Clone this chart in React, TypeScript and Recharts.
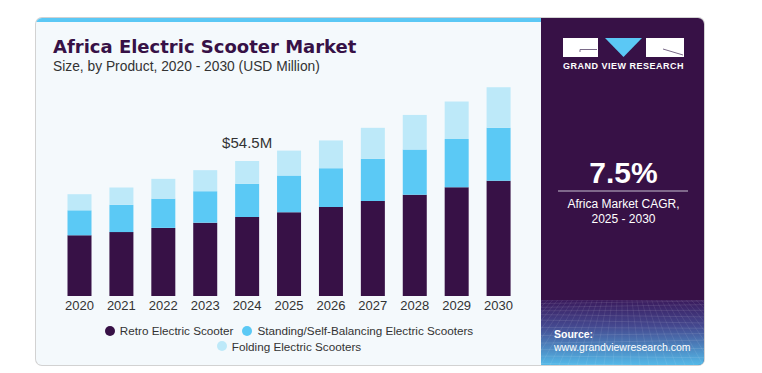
import React from 'react';
import { BarChart, Bar, XAxis, YAxis, LabelList } from 'recharts';

const years = ['2020', '2021', '2022', '2023', '2024', '2025', '2026', '2027', '2028', '2029', '2030'];
const retro = [24.5, 25.8, 27.5, 29.6, 31.9, 33.8, 35.9, 38.4, 40.9, 43.9, 46.5];
const standing = [10.1, 11.0, 11.8, 12.7, 13.4, 14.8, 15.7, 17.0, 18.2, 19.5, 21.4];
const folding = [6.5, 7.0, 8.0, 8.5, 9.2, 10.1, 11.2, 12.5, 14.0, 15.1, 16.4];
const seriesNames = ['Retro Electric Scooter', 'Standing/Self-Balancing Electric Scooters', 'Folding Electric Scooters'];
const seriesColors = ['#371146', '#5bc9f5', '#bde9f9'];
const highlightIndex = 4;

const data = years.map((y, i) => ({ year: y, retro: retro[i], standing: standing[i], folding: folding[i] }));

const FONT = '"Liberation Sans", Arial, sans-serif';

const HighlightLabel = (props: any) => {
  const { x, y, width, index } = props;
  if (index !== highlightIndex) return null;
  const total = retro[index] + standing[index] + folding[index];
  return (
    <text x={x + width / 2} y={y - 12.7} textAnchor="middle" fontSize={15} fill="#333" fontFamily={FONT}>
      {`$${total.toFixed(1)}M`}
    </text>
  );
};

const Grid = () => {
  const lines: React.ReactNode[] = [];
  const top = 300;
  const bottom = 365;
  for (let k = 0; k < 12; k++) {
    const t = k / 11;
    const y = top + (bottom - top) * Math.pow(t, 1.4);
    lines.push(<line key={'h' + k} x1={541} x2={704} y1={y + Math.sin(k) * 1.5} y2={y - Math.sin(k) * 1.5} stroke="#ffffff" strokeOpacity={0.14} strokeWidth={0.7} />);
  }
  for (let k = -10; k <= 26; k++) {
    const xb = 541 + k * 9;
    const xt = 622 + (xb - 622) * 0.55;
    lines.push(<line key={'v' + k} x1={xt} x2={xb} y1={top} y2={bottom} stroke="#ffffff" strokeOpacity={0.12} strokeWidth={0.7} />);
  }
  return <g clipPath="url(#gridClip)">{lines}</g>;
};

export default function App() {
  return (
    <div style={{ position: 'absolute', left: 0, top: 0, width: 762, height: 373, background: '#ffffff', fontFamily: FONT, overflow: 'hidden' }}>
      <div style={{ position: 'absolute', left: 36, top: 18, width: 668, height: 347, background: '#f4f9fc', borderRadius: 6, boxShadow: '0 0 0 1px #d2d2d2', overflow: 'hidden' }}>
        <div style={{ position: 'absolute', left: 0, top: 0, width: 505, height: 4, background: '#5bc8f5' }} />
        <div style={{ position: 'absolute', left: 505, top: 0, right: 0, bottom: 0, background: '#371146' }} />
      </div>

      <svg width={762} height={373} style={{ position: 'absolute', left: 0, top: 0 }}>
        <defs>
          <linearGradient id="bg" x1="0" y1="0" x2="0" y2="1">
            <stop offset="0" stopColor="#3a1a5c" />
            <stop offset="0.4" stopColor="#44488f" />
            <stop offset="1" stopColor="#54b9e8" />
          </linearGradient>
          <clipPath id="gridClip">
            <path d="M541 300 H704 V359 Q704 365 698 365 H541 Z" />
          </clipPath>
        </defs>
        <path d="M541 300 H704 V359 Q704 365 698 365 H541 Z" fill="url(#bg)" />
        <Grid />
        {/* logo */}
        <rect x={563} y={38} width={35} height={19} fill="#ffffff" />
        <polyline points="580,49.5 597,49.5" stroke="#7a6a88" strokeWidth={1} fill="none" />
        <polyline points="580,49.5 580,52" stroke="#7a6a88" strokeWidth={1} fill="none" />
        <polygon points="605,38 642,38 623.5,57" fill="#5bc8f5" />
        <rect x={646} y={38} width={38} height={19} fill="#ffffff" />
        <polyline points="663,49 683,55" stroke="#7a6a88" strokeWidth={1} fill="none" />
        <text x={623.5} y={69.3} textAnchor="middle" fontSize={9} fontWeight="bold" fill="#ffffff" letterSpacing={0.5} fontFamily={FONT}>GRAND VIEW RESEARCH</text>
        <text x={623.5} y={183} textAnchor="middle" fontSize={30} fontWeight="bold" fill="#ffffff" fontFamily={FONT}>7.5%</text>
        <line x1={558} x2={688} y1={191} y2={191} stroke="#c8c0d0" strokeWidth={1} />
        <text x={623.5} y={208.3} textAnchor="middle" fontSize={12} fill="#ffffff" fontFamily={FONT}>Africa Market CAGR,</text>
        <text x={623.5} y={223.3} textAnchor="middle" fontSize={12} fill="#ffffff" fontFamily={FONT}>2025 - 2030</text>
        <text x={554} y={337.7} fontSize={10.5} fontWeight="bold" fill="#ffffff" fontFamily={FONT}>Source:</text>
        <text x={554} y={350.5} fontSize={10.5} fill="#ffffff" fontFamily={FONT}>www.grandviewresearch.com</text>
      </svg>

      <div style={{ position: 'absolute', left: 53, top: 37.8, fontSize: 18, lineHeight: 1, fontWeight: 'bold', color: '#371146', fontFamily: '"DejaVu Sans", sans-serif', whiteSpace: 'nowrap' }}>
        Africa Electric Scooter Market
      </div>
      <div style={{ position: 'absolute', left: 53, top: 60, fontSize: 13.8, lineHeight: 1, color: '#333333', whiteSpace: 'nowrap' }}>
        Size, by Product, 2020 - 2030 (USD Million)
      </div>

      <div style={{ position: 'absolute', left: 0, top: 0 }}>
        <BarChart width={541} height={373} data={data} margin={{ top: 48.3, right: 21.5, bottom: 47, left: 58.5 }}>
          <YAxis hide domain={[0, 100]} />
          <XAxis dataKey="year" axisLine={false} tickLine={false} tickSize={0} tickMargin={5} height={30} interval={0}
            tick={{ fontSize: 13, fill: '#333333', fontFamily: FONT }} />
          <Bar dataKey="retro" stackId="a" fill={seriesColors[0]} barSize={24} isAnimationActive={false} />
          <Bar dataKey="standing" stackId="a" fill={seriesColors[1]} barSize={24} isAnimationActive={false} />
          <Bar dataKey="folding" stackId="a" fill={seriesColors[2]} barSize={24} isAnimationActive={false}>
            <LabelList dataKey="folding" content={HighlightLabel} />
          </Bar>
        </BarChart>
      </div>

      {[[0, 1], [2]].map((row, r) => (
        <div key={r} style={{ position: 'absolute', left: 0, width: 578, top: r === 0 ? 323.7 : 339, height: 14, display: 'flex', justifyContent: 'center', alignItems: 'center', fontSize: 11.7, color: '#333333', whiteSpace: 'nowrap' }}>
          {row.map((i) => (
            <div key={i} style={{ display: 'flex', alignItems: 'center', marginLeft: i === 1 ? 9 : 0 }}>
              <span style={{ display: 'inline-block', width: 10, height: 10, borderRadius: 5, background: seriesColors[i], marginRight: 5 }} />
              <span>{seriesNames[i]}</span>
            </div>
          ))}
        </div>
      ))}
    </div>
  );
}
